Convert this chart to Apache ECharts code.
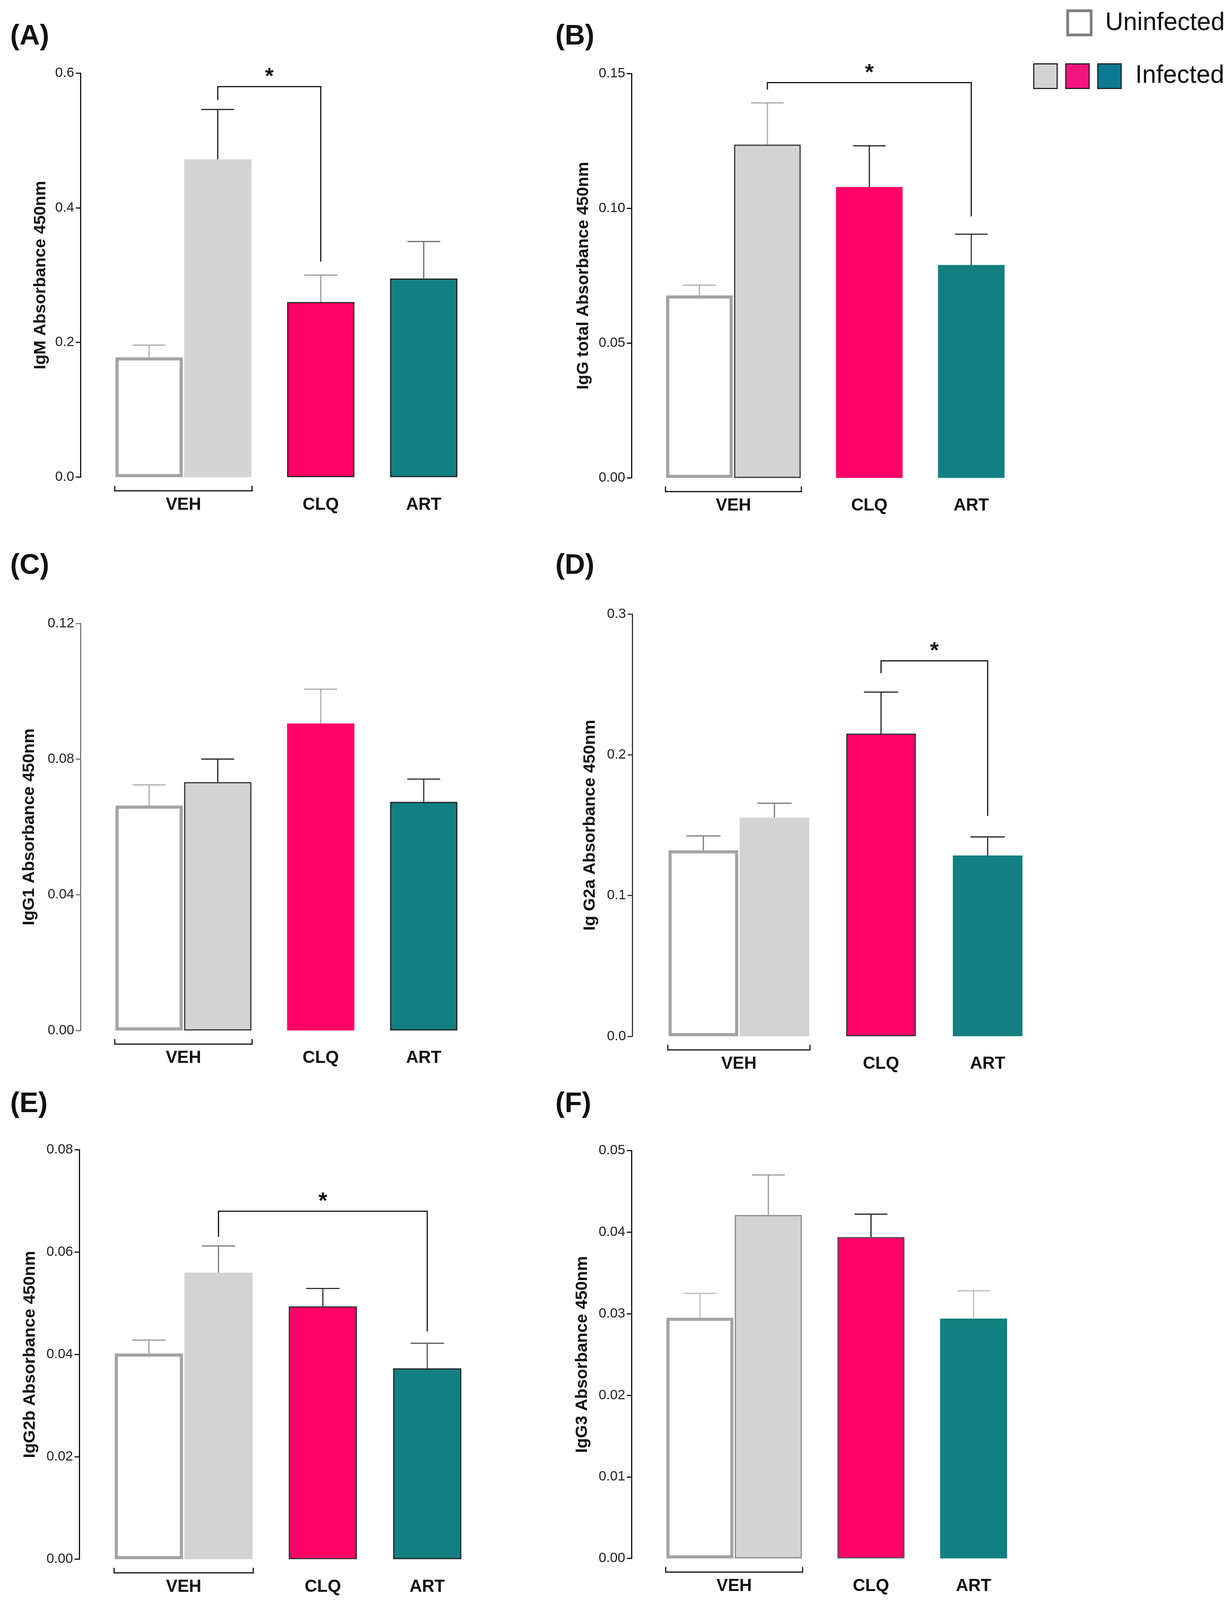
<!DOCTYPE html>
<html>
<head>
<meta charset="utf-8">
<script src="https://cdn.jsdelivr.net/npm/echarts@6/dist/echarts.min.js"></script>
<style>
html, body { margin: 0; padding: 0; background: #fff; overflow: hidden; }
#main { width: 3147px; height: 4158px; }
</style>
</head>
<body>
<div id="main"></div>
<script>
// groups: uninfected VEH, infected VEH, infected CLQ, infected ART
var groups = ['Uninfected VEH', 'Infected VEH', 'Infected CLQ', 'Infected ART'];
var slotLabels = ['', '', '', 'VEH', '', '', '', 'CLQ', '', '', 'ART', ''];

// means and SEM
var igmMean = [0.178, 0.472, 0.260, 0.295];
var igmSem = [0.018, 0.074, 0.040, 0.055];
var iggMean = [0.0677, 0.1236, 0.1079, 0.0790];
var iggSem = [0.0038, 0.0155, 0.0153, 0.0114];
var igg1Mean = [0.0663, 0.0732, 0.0905, 0.0674];
var igg1Sem = [0.0061, 0.0068, 0.0101, 0.0067];
var igg2aMean = [0.1322, 0.1554, 0.2151, 0.1285];
var igg2aSem = [0.0102, 0.0102, 0.0295, 0.0132];
var igg2bMean = [0.0402, 0.0560, 0.0494, 0.0373];
var igg2bSem = [0.0026, 0.0052, 0.0035, 0.0049];
var igg3Mean = [0.0295, 0.0421, 0.0394, 0.0294];
var igg3Sem = [0.0030, 0.0049, 0.0028, 0.0034];

var panelTags = ['(A)', '(B)', '(C)', '(D)', '(E)', '(F)'];
var yTitles = ['IgM Absorbance 450nm', 'IgG total Absorbance 450nm', 'IgG1 Absorbance 450nm',
    'Ig G2a Absorbance 450nm', 'IgG2b Absorbance 450nm', 'IgG3 Absorbance 450nm'];
var yMax = [0.6, 0.15, 0.12, 0.3, 0.08, 0.05];
var yStep = [0.2, 0.05, 0.04, 0.1, 0.02, 0.01];
var yDigits = [1, 2, 2, 1, 2, 2];

// significance: [from group, to group, bracket top, left end, right end]
var sigA = [1, 2, 0.580, 0.560, 0.320];
var sigB = [1, 3, 0.1466, 0.1440, 0.0970];
var sigD = [2, 3, 0.2668, 0.2580, 0.1566];
var sigE = [1, 3, 0.0680, 0.0630, 0.0445];

var panels = [
    { mean: igmMean, sem: igmSem, sig: sigA },
    { mean: iggMean, sem: iggSem, sig: sigB },
    { mean: igg1Mean, sem: igg1Sem, sig: null },
    { mean: igg2aMean, sem: igg2aSem, sig: sigD },
    { mean: igg2bMean, sem: igg2bSem, sig: sigE },
    { mean: igg3Mean, sem: igg3Sem, sig: null }
];

// the visible page is a bit shorter than the figure: squeeze vertically to fit
var SY = Math.min(1, (window.innerHeight || 4158) / 4158);
document.getElementById('main').style.height = Math.floor(4158 * SY) + 'px';

// layout (pixels): axis x, top of axis, zero line, slot width, title gap
var boxes = [
    { left: 206, top: 190, zero: 1240, unit: 87.9, gap: 80, tagX: 26, tagY: 96 },
    { left: 1617, top: 191, zero: 1242, unit: 87.0, gap: 101, tagX: 1422, tagY: 96 },
    { left: 206, top: 1620, zero: 2678, unit: 87.9, gap: 109, tagX: 26, tagY: 1471 },
    { left: 1619, top: 1596, zero: 2693, unit: 91.0, gap: 86, tagX: 1422, tagY: 1471 },
    { left: 203, top: 2988, zero: 4052, unit: 89.1, gap: 104, tagX: 26, tagY: 2870 },
    { left: 1617, top: 2990, zero: 4050, unit: 87.6, gap: 104, tagX: 1422, tagY: 2870 }
];
var barSlots = [2, 4, 7, 10];

// styles
var FONT = "'Liberation Sans', Arial, sans-serif";
var fillColors = ['#ffffff', '#d3d3d3', '#ff0066', '#128080'];
var errColors = [
    ['#aaaaaa', '#222222', '#999999', '#666666'],
    ['#aaaaaa', '#aaaaaa', '#222222', '#333333'],
    ['#aaaaaa', '#222222', '#aaaaaa', '#333333'],
    ['#777777', '#777777', '#222222', '#222222'],
    ['#999999', '#777777', '#333333', '#555555'],
    ['#bbbbbb', '#999999', '#222222', '#bbbbbb']
];
var barBorders = [
    [null, null, '#222', '#222'],
    [null, '#333', null, null],
    [null, '#333', null, '#222'],
    [null, null, '#333', null],
    [null, null, '#333', '#222'],
    [null, '#888', '#555', null]
];
var axisColors = ['#111', '#111', '#777', '#333', '#111', '#111'];

var myChart = echarts.init(document.getElementById('main'));

var grid = [], xAxis = [], yAxis = [], series = [];

panels.forEach(function (pn, p) {
    var b = boxes[p];
    var bw = b.unit * 1.96;
    grid.push({
        left: b.left, top: b.top * SY,
        width: b.unit * 11, height: (b.zero - b.top) * SY,
        containLabel: false
    });
    xAxis.push({
        type: 'category', gridIndex: p, data: slotLabels, boundaryGap: false,
        axisLine: { show: false }, axisTick: { show: false }, splitLine: { show: false },
        axisLabel: {
            interval: 0, margin: 49, color: '#111',
            fontSize: 44, fontWeight: 'bold', fontFamily: FONT
        }
    });
    yAxis.push({
        type: 'value', gridIndex: p, min: 0, max: yMax[p], interval: yStep[p],
        name: yTitles[p], nameLocation: 'middle', nameGap: b.gap,
        nameTextStyle: { fontSize: 43, fontWeight: 'bold', color: '#111', fontFamily: FONT },
        axisLine: { show: true, lineStyle: { color: axisColors[p], width: 3 } },
        axisTick: { show: true, length: 12, lineStyle: { color: axisColors[p], width: 3 } },
        splitLine: { show: false },
        axisLabel: {
            margin: 16, color: '#222', fontSize: 35, fontFamily: FONT,
            formatter: function (v) { return v.toFixed(yDigits[p]); }
        }
    });

    // bars
    var barData = slotLabels.map(function () { return '-'; });
    pn.mean.forEach(function (v, k) {
        var st = { color: fillColors[k] };
        if (k === 0) {
            st.borderColor = '#a3a3a3';
            st.borderWidth = 8;
        } else if (barBorders[p][k]) {
            st.borderColor = barBorders[p][k];
            st.borderWidth = 3;
        }
        barData[barSlots[k]] = { value: v, name: groups[k], itemStyle: st };
    });
    series.push({
        type: 'bar', xAxisIndex: p, yAxisIndex: p, barWidth: bw,
        data: barData, silent: true, z: 2
    });

    // error bars (mean -> mean + SEM)
    series.push({
        type: 'custom', xAxisIndex: p, yAxisIndex: p, z: 3, silent: true,
        encode: { x: 0, y: [1, 2] },
        data: pn.mean.map(function (v, k) { return [barSlots[k], v, v + pn.sem[k], k]; }),
        renderItem: function (params, api) {
            var x = api.value(0);
            var p0 = api.coord([x, api.value(1)]);
            var p1 = api.coord([x, api.value(2)]);
            var half = b.unit * 0.48;
            var c = errColors[p][api.value(3)];
            return {
                type: 'group',
                children: [
                    { type: 'line', shape: { x1: p0[0], y1: p0[1], x2: p1[0], y2: p1[1] }, style: { stroke: c, lineWidth: 3 } },
                    { type: 'line', shape: { x1: p1[0] - half, y1: p1[1], x2: p1[0] + half, y2: p1[1] }, style: { stroke: c, lineWidth: 3 } }
                ]
            };
        }
    });

    // VEH bracket + significance bracket
    series.push({
        type: 'custom', xAxisIndex: p, yAxisIndex: p, z: 4, silent: true, clip: false,
        data: [[0, 0]],
        renderItem: function (params, api) {
            var kids = [];
            var a = api.coord([barSlots[0] - 1.05, 0]);
            var e = api.coord([barSlots[1] + 1, 0]);
            var y = a[1] + 35;
            kids.push({
                type: 'polyline',
                shape: { points: [[a[0], y - 13], [a[0], y], [e[0], y], [e[0], y - 13]] },
                style: { stroke: '#111', lineWidth: 3, fill: null }
            });
            if (pn.sig) {
                var s = pn.sig;
                var xs = barSlots[s[0]], xe = barSlots[s[1]];
                var q1 = api.coord([xs, s[3]]), q2 = api.coord([xs, s[2]]);
                var q3 = api.coord([xe, s[2]]), q4 = api.coord([xe, s[4]]);
                kids.push({
                    type: 'polyline',
                    shape: { points: [q1, q2, q3, q4] },
                    style: { stroke: '#111', lineWidth: 3, fill: null }
                });
                kids.push({
                    type: 'text', x: (q2[0] + q3[0]) / 2, y: q2[1] - 24,
                    style: {
                        text: '*', fill: '#111', align: 'center', verticalAlign: 'middle',
                        font: 'bold 58px ' + FONT
                    }
                });
            }
            return { type: 'group', children: kids };
        }
    });
});

// panel letters and the shared legend
var graphic = boxes.map(function (b, p) {
    return {
        type: 'text', x: b.tagX, y: b.tagY * SY,
        style: { text: panelTags[p], fill: '#111', font: 'bold 72px ' + FONT, verticalAlign: 'middle' }
    };
});
graphic.push(
    { type: 'rect', shape: { x: 2734, y: 28 * SY, width: 60, height: 62 }, style: { fill: '#fff', stroke: '#808080', lineWidth: 7 } },
    { type: 'text', x: 2830, y: 60 * SY, style: { text: 'Uninfected', fill: '#111', font: '64px ' + FONT, verticalAlign: 'middle' } },
    { type: 'rect', shape: { x: 2647, y: 166 * SY, width: 60, height: 63 }, style: { fill: '#d3d3d3', stroke: '#222', lineWidth: 3 } },
    { type: 'rect', shape: { x: 2729, y: 166 * SY, width: 60, height: 63 }, style: { fill: '#f5157f', stroke: '#222', lineWidth: 3 } },
    { type: 'rect', shape: { x: 2811, y: 166 * SY, width: 60, height: 63 }, style: { fill: '#0b7a92', stroke: '#222', lineWidth: 3 } },
    { type: 'text', x: 2907, y: 197 * SY, style: { text: 'Infected', fill: '#111', font: '64px ' + FONT, verticalAlign: 'middle' } }
);

var option = {
    backgroundColor: '#fff',
    animation: false,
    grid: grid,
    xAxis: xAxis,
    yAxis: yAxis,
    series: series,
    graphic: graphic
};
myChart.setOption(option);
</script>
</body>
</html>
